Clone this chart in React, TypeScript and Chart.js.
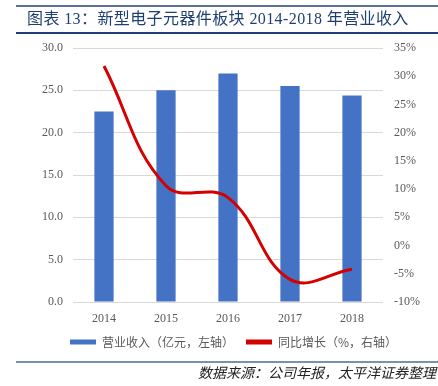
import React, { useEffect, useRef } from "react";
import { Chart, registerables } from "chart.js";

Chart.register(...registerables);

const categories = ["2014", "2015", "2016", "2017", "2018"];
const revenue = [22.5, 25.0, 27.0, 25.5, 24.4];
const growth = [31.8, 10.6, 8.5, -6.0, -4.2];
const leftTicks = { min: 0, max: 30, step: 5 };
const rightTicks = { min: -10, max: 35, step: 5 };
const seriesNames = ["营业收入（亿元，左轴）", "同比增长（%，右轴）"];
const titleText = "图表 13：新型电子元器件板块 2014-2018 年营业收入";
const sourceText = "数据来源：公司年报，太平洋证券整理";

const tickFont = { family: "'Liberation Serif', 'Times New Roman', serif", size: 12 };
const tickColor = "#595959";

export default function App() {
  const ref = useRef<HTMLCanvasElement | null>(null);

  useEffect(() => {
    if (!ref.current) return;
    const chart = new Chart(ref.current, {
      type: "bar",
      data: {
        labels: categories,
        datasets: [
          {
            type: "bar",
            label: seriesNames[0],
            data: revenue,
            backgroundColor: "#4472c4",
            yAxisID: "y",
            barPercentage: 0.31,
            categoryPercentage: 1,
            order: 1,
          },
          {
            type: "line",
            label: seriesNames[1],
            data: growth,
            borderColor: "#d50000",
            backgroundColor: "#d50000",
            borderWidth: 3,
            pointRadius: 0,
            tension: 0.4,
            yAxisID: "y1",
            order: 0,
          },
        ],
      } as any,
      options: {
        animation: false,
        responsive: false,
        maintainAspectRatio: false,
        layout: { padding: { left: 29, right: 0, top: 48, bottom: 28 } },
        plugins: {
          title: { display: false },
          tooltip: { enabled: false },
          legend: {
            position: "bottom",
            labels: {
              boxWidth: 26,
              boxHeight: 5,
              padding: 12,
              color: "#595959",
              font: { family: "'Noto Sans CJK SC', sans-serif", size: 12 },
              generateLabels: (c: any) =>
                c.data.datasets.map((ds: any, i: number) => ({
                  text: ds.label,
                  fillStyle: ds.type === "line" ? ds.borderColor : ds.backgroundColor,
                  strokeStyle: "rgba(0,0,0,0)",
                  lineWidth: 0,
                  hidden: false,
                  datasetIndex: i,
                  fontColor: "#595959",
                })),
            },
          },
        },
        scales: {
          x: {
            grid: { display: false, drawTicks: false },
            border: { display: false },
            ticks: { color: tickColor, font: tickFont, padding: 10, maxRotation: 0 },
            afterFit: (s: any) => {
              s.height = 22;
            },
          },
          y: {
            position: "left",
            min: leftTicks.min,
            max: leftTicks.max,
            grid: { color: "#d9d9d9", lineWidth: 1, drawTicks: false },
            border: { display: false },
            ticks: {
              stepSize: leftTicks.step,
              color: tickColor,
              font: tickFont,
              padding: 10,
              callback: (v: any) => Number(v).toFixed(1),
            },
            afterFit: (s: any) => {
              s.width = 44;
            },
          },
          y1: {
            position: "right",
            min: rightTicks.min,
            max: rightTicks.max,
            grid: { display: false, drawTicks: false },
            border: { display: false },
            ticks: {
              stepSize: rightTicks.step,
              color: tickColor,
              font: tickFont,
              padding: 11,
              callback: (v: any) => `${v}%`,
            },
            afterFit: (s: any) => {
              s.width = 55;
            },
          },
        },
      } as any,
    });
    return () => chart.destroy();
  }, []);

  return (
    <div
      style={{
        position: "fixed",
        left: 0,
        top: 0,
        width: 438,
        height: 386,
        overflow: "hidden",
        background: "#ffffff",
      }}
    >
      <canvas ref={ref} width={438} height={386} style={{ position: "absolute", left: 0, top: 0 }} />
      <div style={{ position: "absolute", left: 16, right: 0, top: 5, height: 2, background: "#5d6f96" }} />
      <div
        style={{
          position: "absolute",
          left: 27,
          top: 11,
          fontSize: 16,
          lineHeight: "16px",
          whiteSpace: "nowrap",
          letterSpacing: 0.4,
          color: "#1f3f73",
          fontFamily: "'Liberation Serif', 'Noto Sans CJK SC', serif",
        }}
      >
        {titleText}
      </div>
      <div style={{ position: "absolute", left: 16, right: 0, top: 32, height: 1.5, background: "#1f3f7a" }} />
      <div style={{ position: "absolute", left: 16, right: 0, top: 361, height: 2, background: "#7d8fae" }} />
      <div
        style={{
          position: "absolute",
          right: 2,
          top: 365,
          fontSize: 14,
          lineHeight: "14px",
          whiteSpace: "nowrap",
          fontStyle: "italic",
          color: "#222222",
          fontFamily: "'Noto Sans CJK SC', sans-serif",
        }}
      >
        {sourceText}
      </div>
    </div>
  );
}
